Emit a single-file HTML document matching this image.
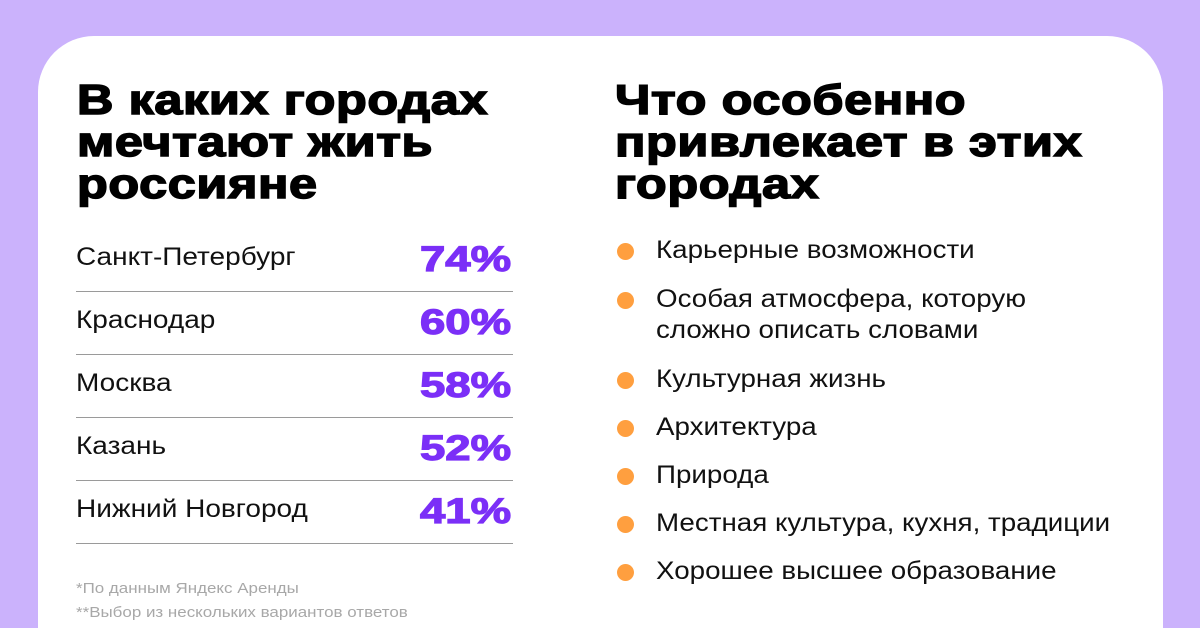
<!DOCTYPE html>
<html><head><meta charset="utf-8"><style>
html,body{margin:0;padding:0;width:1200px;height:628px;overflow:hidden}
body{background:#cbb2fc;position:relative;font-family:"Liberation Sans","DejaVu Sans",sans-serif}
.card{position:absolute;left:38px;top:36px;width:1125px;height:592px;background:#fff;border-radius:56px 56px 0 0}
.t{position:absolute;font-weight:900;font-size:42px;line-height:42px;color:#000;-webkit-text-stroke:1.5px #000;transform-origin:0 0;transform:scaleX(1.2);white-space:nowrap;letter-spacing:0.5px}
.row{position:absolute;left:76px;width:437px;height:63px;border-bottom:1.5px solid #9a9a9a}
.row .n{position:absolute;left:0;top:15px;font-size:25px;color:#111;transform-origin:0 0;transform:scaleX(1.12);white-space:nowrap}
.row .p{position:absolute;right:2px;top:12px;font-size:35px;font-weight:900;color:#7b2ff7;-webkit-text-stroke:1.2px #7b2ff7;transform-origin:100% 0;transform:scaleX(1.3)}
.li{position:absolute;left:656px;font-size:25px;line-height:31px;color:#111;transform-origin:0 0;transform:scaleX(1.11);white-space:nowrap}
.dot{position:absolute;left:617px;width:17px;height:17px;border-radius:50%;background:#ff9f3f}
.fn{position:absolute;left:76px;font-size:15px;line-height:17px;color:#a8a8a8;transform-origin:0 0;transform:scaleX(1.13);white-space:nowrap}
</style></head><body>
<div class="card"></div>
<div class="t" style="left:77px;top:79px">В каких городах<br>мечтают жить<br>россияне</div>
<div class="t" style="left:615px;top:79px">Что особенно<br>привлекает в этих<br>городах</div>
<div class="row" style="top:228px"><span class="n">Санкт-Петербург</span><span class="p">74%</span></div>
<div class="row" style="top:291px"><span class="n">Краснодар</span><span class="p">60%</span></div>
<div class="row" style="top:354px"><span class="n">Москва</span><span class="p">58%</span></div>
<div class="row" style="top:417px"><span class="n">Казань</span><span class="p">52%</span></div>
<div class="row" style="top:480px"><span class="n">Нижний Новгород</span><span class="p">41%</span></div>
<div class="fn" style="top:580px">*По данным Яндекс Аренды</div>
<div class="fn" style="top:604px">**Выбор из нескольких вариантов ответов</div>
<div class="dot" style="top:243px"></div><div class="li" style="top:235px">Карьерные возможности</div>
<div class="dot" style="top:292px"></div><div class="li" style="top:284px">Особая атмосфера, которую<br>сложно описать словами</div>
<div class="dot" style="top:372px"></div><div class="li" style="top:364px">Культурная жизнь</div>
<div class="dot" style="top:420px"></div><div class="li" style="top:412px">Архитектура</div>
<div class="dot" style="top:468px"></div><div class="li" style="top:460px">Природа</div>
<div class="dot" style="top:516px"></div><div class="li" style="top:508px">Местная культура, кухня, традиции</div>
<div class="dot" style="top:564px"></div><div class="li" style="top:556px">Хорошее высшее образование</div>
</body></html>
